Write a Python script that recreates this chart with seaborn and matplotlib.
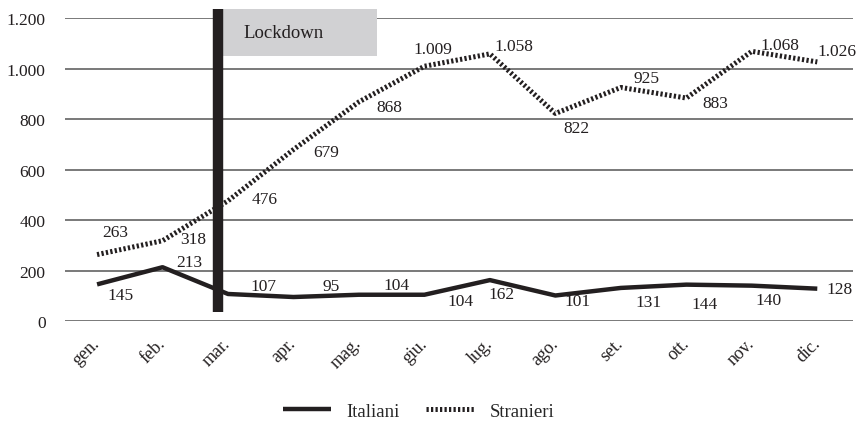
import matplotlib
matplotlib.use("Agg")
import matplotlib.pyplot as plt
import matplotlib.lines as mlines
import pandas as pd
import seaborn as sns

months = ["gen.", "feb.", "mar.", "apr.", "mag.", "giu.",
          "lug.", "ago.", "set.", "ott.", "nov.", "dic."]
italiani = [145, 213, 107, 95, 104, 104, 162, 101, 131, 144, 140, 128]
stranieri = [263, 318, 476, 679, 868, 1009, 1058, 822, 925, 883, 1068, 1026]
y_ticks = [0, 200, 400, 600, 800, 1000, 1200]

# label offsets in pixels (dx, dy) from each point
OFF_IT = [(23, -11), (27, 5), (35, 8), (38, 11), (38, 10), (36, -6),
          (12, -14), (22, -6), (28, -14), (18, -19), (17, -14), (22, 0)]
OFF_ST = [(18, 23), (31, 2), (37, 2), (33, -2), (30, -5), (8, 17),
          (24, 8), (21, -15), (26, 9), (29, -5), (28, 6), (20, 11)]

INK = "#231f20"
GRID = "#555555"
BOX = "#d1d1d3"

sns.set_style("white")
plt.rcParams["font.family"] = ["Liberation Serif", "DejaVu Serif"]

df = pd.DataFrame({"mese": months, "Italiani": italiani, "Stranieri": stranieri})


def fmt(v):
    return f"{v:,}".replace(",", ".")


fig = plt.figure(figsize=(8.63, 4.27), dpi=100)
ax = fig.add_axes([0.0753, 0.2459, 0.9127, 0.7096])

sns.lineplot(data=df, x="mese", y="Italiani", ax=ax, color=INK, lw=3.2,
             sort=False, solid_capstyle="butt")
sns.lineplot(data=df, x="mese", y="Stranieri", ax=ax, color=INK, lw=3.6,
             sort=False, linestyle=(0, (0.45, 0.45)))

for i, v in enumerate(italiani):
    ax.annotate(str(v), (i, v), xytext=OFF_IT[i], textcoords="offset pixels",
                ha="center", va="center", fontsize=12.5, color=INK,
                annotation_clip=False)
for i, v in enumerate(stranieri):
    ax.annotate(fmt(v), (i, v), xytext=OFF_ST[i], textcoords="offset pixels",
                ha="center", va="center", fontsize=12.5, color=INK,
                annotation_clip=False)

# lockdown marker
ax.plot([1.85, 1.85], [36, 1236], color=INK, lw=7.5, solid_capstyle="butt",
        clip_on=False, zorder=5)
ax.add_patch(plt.Rectangle((1.93, 1050), 2.34, 186, facecolor=BOX,
                           edgecolor="none", clip_on=False, zorder=1))
ax.text(2.23, 1143, "Lockdown", ha="left", va="center", fontsize=13.5,
        color=INK, zorder=6)

ax.set_xlim(-0.49, 11.54)
ax.set_ylim(0, 1200)
ax.set_yticks(y_ticks)
ax.set_yticklabels([fmt(t) for t in y_ticks], fontsize=12.5, color=INK)
ax.grid(axis="y", color=GRID, lw=1.1)
ax.set_axisbelow(True)
ax.set_xlabel("")
ax.set_ylabel("")
for s in ax.spines.values():
    s.set_visible(False)
ax.tick_params(axis="y", length=0, pad=14)
ax.tick_params(axis="x", length=0, pad=14)
plt.setp(ax.get_xticklabels(), rotation=45, ha="right", va="center",
         rotation_mode="anchor", fontsize=13, color=INK)

h_it = mlines.Line2D([], [], color=INK, lw=3.2, solid_capstyle="butt")
h_st = mlines.Line2D([], [], color=INK, lw=3.6, linestyle=(0, (0.45, 0.45)))
fig.legend([h_it, h_st], ["Italiani", "Stranieri"], loc="center",
           bbox_to_anchor=(0.485, 0.035), ncol=2, frameon=False,
           fontsize=13.5, handlelength=2.6, columnspacing=1.4,
           handletextpad=0.8)

fig.savefig("out.png", dpi=100)
